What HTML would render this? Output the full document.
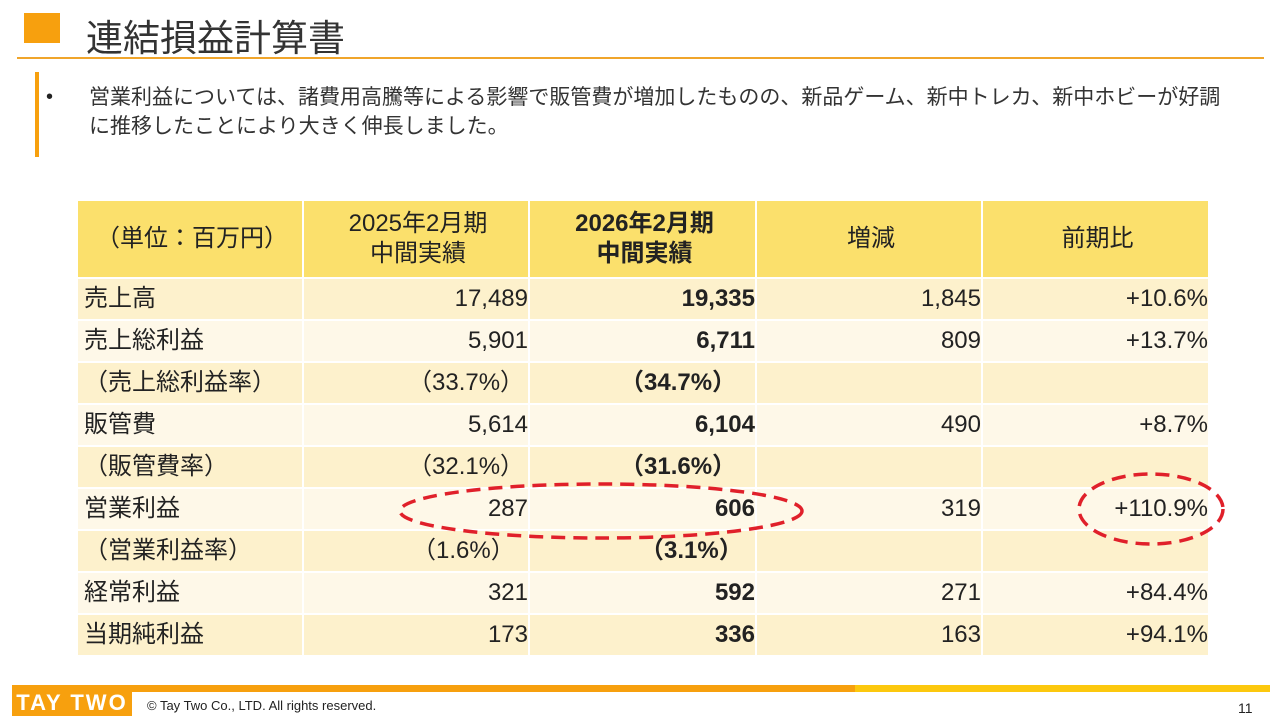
<!DOCTYPE html>
<html><head><meta charset="utf-8"><style>
body{margin:0;width:1280px;height:720px;background:#fff;position:relative;overflow:hidden;font-family:"Liberation Sans","Noto Sans CJK JP",sans-serif;color:#222}
.abs{position:absolute}
table{position:absolute;left:78px;top:201px;border-collapse:separate;border-spacing:2px;margin:-2px}
td{font-size:24px;padding:0 2px 0 6px;height:40px;white-space:nowrap;line-height:26px}
tr.h td{background:#fbe06c;height:76px;text-align:center;line-height:30px;font-size:24px}
tr.a td{background:#fdf1cc}
tr.b td{background:#fef8e8}
td.n{text-align:right;padding-right:0}
td.bd{font-weight:bold}
</style></head><body>
<div class="abs" style="left:24px;top:13px;width:36px;height:30px;background:#f7a00e"></div>
<div class="abs" style="left:86px;top:8px;font-size:37px;color:#333">連結損益計算書</div>
<div class="abs" style="left:17px;top:57px;width:1247px;height:2px;background:#f0a52b"></div>
<div class="abs" style="left:35px;top:72px;width:4px;height:85px;background:#f7a00e"></div>
<div class="abs" style="left:46px;top:86px;font-size:20px">•</div>
<div class="abs" style="left:89px;top:83px;font-size:21px;line-height:29px;color:#333;width:1150px">営業利益については、諸費用高騰等による影響で販管費が増加したものの、新品ゲーム、新中トレカ、新中ホビーが好調<br>に推移したことにより大きく伸長しました。</div>
<table>
<colgroup><col style="width:224px"><col style="width:224px"><col style="width:225px"><col style="width:224px"><col style="width:225px"></colgroup>
<tr class="h"><td>（単位：百万円）</td><td>2025年2月期<br>中間実績</td><td style="font-weight:bold">2026年2月期<br>中間実績</td><td>増減</td><td>前期比</td></tr>
<tr class="a"><td>売上高</td><td class="n">17,489</td><td class="n bd">19,335</td><td class="n">1,845</td><td class="n">+10.6%</td></tr>
<tr class="b"><td>売上総利益</td><td class="n">5,901</td><td class="n bd">6,711</td><td class="n">809</td><td class="n">+13.7%</td></tr>
<tr class="a"><td>（売上総利益率）</td><td style="padding-left:104px">（33.7%）</td><td class="bd" style="padding-left:90px">（34.7%）</td><td></td><td></td></tr>
<tr class="b"><td>販管費</td><td class="n">5,614</td><td class="n bd">6,104</td><td class="n">490</td><td class="n">+8.7%</td></tr>
<tr class="a"><td>（販管費率）</td><td style="padding-left:104px">（32.1%）</td><td class="bd" style="padding-left:90px">（31.6%）</td><td></td><td></td></tr>
<tr class="b"><td>営業利益</td><td class="n">287</td><td class="n bd">606</td><td class="n">319</td><td class="n">+110.9%</td></tr>
<tr class="a"><td>（営業利益率）</td><td style="padding-left:108px">（1.6%）</td><td class="bd" style="padding-left:110px">（3.1%）</td><td></td><td></td></tr>
<tr class="b"><td>経常利益</td><td class="n">321</td><td class="n bd">592</td><td class="n">271</td><td class="n">+84.4%</td></tr>
<tr class="a"><td>当期純利益</td><td class="n">173</td><td class="n bd">336</td><td class="n">163</td><td class="n">+94.1%</td></tr>
</table>
<svg class="abs" style="left:0;top:0" width="1280" height="720">
<ellipse cx="601" cy="511" rx="201" ry="27" fill="none" stroke="#e0202a" stroke-width="3.5" stroke-dasharray="14 8"/>
<ellipse cx="1151" cy="509" rx="72" ry="35" fill="none" stroke="#e0202a" stroke-width="3.5" stroke-dasharray="14 8"/>
</svg>
<div class="abs" style="left:12px;top:685px;width:843px;height:7px;background:#f7a00e"></div>
<div class="abs" style="left:855px;top:685px;width:415px;height:7px;background:#fcc80e"></div>
<div class="abs" style="left:12px;top:685px;width:120px;height:31px;background:#f7a00e;color:#fff;font-weight:bold;font-size:22px;line-height:36px;text-align:center;letter-spacing:2px">TAY TWO</div>
<div class="abs" style="left:147px;top:698px;font-size:13px;color:#222">© Tay Two Co., LTD. All rights reserved.</div>
<div class="abs" style="left:1238px;top:700px;font-size:14px;color:#222">11</div>
</body></html>
